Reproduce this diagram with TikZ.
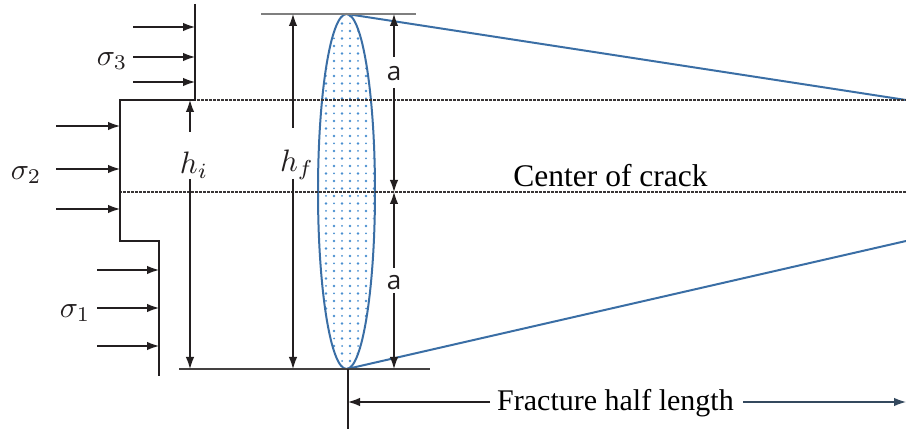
\documentclass[tikz,border=0pt]{standalone}
\usepackage{fontspec}
\setmainfont{Liberation Serif}
\newfontfamily\asans{Open Sans}
\usetikzlibrary{arrows.meta}
\definecolor{lineblk}{HTML}{231F20}
\definecolor{crackblue}{HTML}{3A6EA5}
\definecolor{dotblue}{HTML}{4A8FD0}
\definecolor{slate}{HTML}{34495E}
\definecolor{gline}{HTML}{7F7F7F}
\tikzset{
  ln/.style={draw=lineblk, line width=1.2pt},
  arr/.style={ln, -{Latex[length=12pt,width=8.5pt]}},
  dsh/.style={draw=lineblk!90, line width=1.1pt, dash pattern=on 2.5pt off 1.5pt},
  blu/.style={draw=crackblue, line width=2pt},
  sig/.style={inner sep=0pt, scale=3.0, text=lineblk},
  hlab/.style={inner sep=0pt, scale=3.1, text=lineblk},
  alab/.style={inner sep=0pt, font=\asans\fontsize{26}{28}\selectfont, text=lineblk},
  txt/.style={inner sep=0pt, text=black}
}
\begin{document}
\begin{tikzpicture}[x=1pt,y=-1pt]
\useasboundingbox (0,0) rectangle (906,435);
% coordinates
\coordinate (s0) at (195,4);
\coordinate (s1) at (195,100);
\coordinate (s2) at (120,100);
\coordinate (s3) at (120,241);
\coordinate (s4) at (159,241);
\coordinate (s5) at (159,376);
\coordinate (tip) at (347,14);
\coordinate (bot) at (347,369);
\coordinate (ur) at (906,100);
\coordinate (lr) at (906,241);
% crack ellipse with dots
\begin{scope}
\clip (346.5,191.5) ellipse [x radius=27.5, y radius=176.5];
\foreach \i in {0,...,7} {
  \foreach \j in {0,...,47} {
    \pgfmathsetmacro\rr{mod(\i+\j,2)==0 ? 1.35 : 1.0}
    \fill[dotblue] ({318+\i*8},{16+\j*7.5}) circle [radius=\rr];
  }
}
\end{scope}
\draw[blu] (346.5,191.5) ellipse [x radius=28.5, y radius=177.5];
\draw[blu] (tip) -- (ur);
\draw[blu] (bot) -- (lr);
% dashed lines
\draw[dsh] (141,100) -- (906,100);
\draw[dsh] (119,192) -- (906,192);
% reference lines
\draw[draw=gline, line width=1.3pt] (261,14) -- (416,14);
\draw[draw=lineblk!85, line width=1.3pt] (179,369) -- (430,369);
% step profile
\draw[ln] (s0) -- (s1) -- (s2) -- (s3) -- (s4) -- (s5);
% stress arrows
\foreach \y in {27,57,82} { \draw[arr] (133,\y) -- (195,\y); }
\foreach \y in {126,169,209} { \draw[arr] (56,\y) -- (120,\y); }
\foreach \y in {270,308,346} { \draw[arr] (97,\y) -- (159,\y); }
\node[sig, anchor=east] (sig3) at (128,61) {$\sigma_3$};
\node[sig, anchor=east] (sig2) at (42,175) {$\sigma_2$};
\node[sig, anchor=east] (sig1) at (91,313) {$\sigma_1$};
% h_i and h_f
\node[hlab] (hi) at (194,165) {$h_i$};
\node[hlab] (hf) at (297,165) {$h_f$};
\draw[arr] (190,132) -- (190,100);
\draw[arr] (190,179) -- (190,369);
\draw[arr] (293,128) -- (293,14);
\draw[arr] (293,179) -- (293,369);
% a arrows
\node[alab] (a1) at (394,74) {a};
\node[alab] (a2) at (394,283) {a};
\draw[arr] (394,57) -- (394,14);
\draw[arr] (394,88) -- (394,192);
\draw[arr] (394,268) -- (394,192);
\draw[arr] (394,293) -- (394,369);
% center of crack
\node[txt, anchor=base, font=\fontsize{31.5}{33}\selectfont] (coc) at (610.5,187) {Center of crack};
% fracture half length
\draw[ln] (348,369) -- (348,429);
\node[txt, anchor=base, font=\fontsize{30}{32}\selectfont] (fhl) at (615.5,411) {Fracture half length};
\draw[arr] (490,402) -- (348,402);
\draw[arr, draw=slate] (743,402) -- (906,402);
\end{tikzpicture}
\end{document}
